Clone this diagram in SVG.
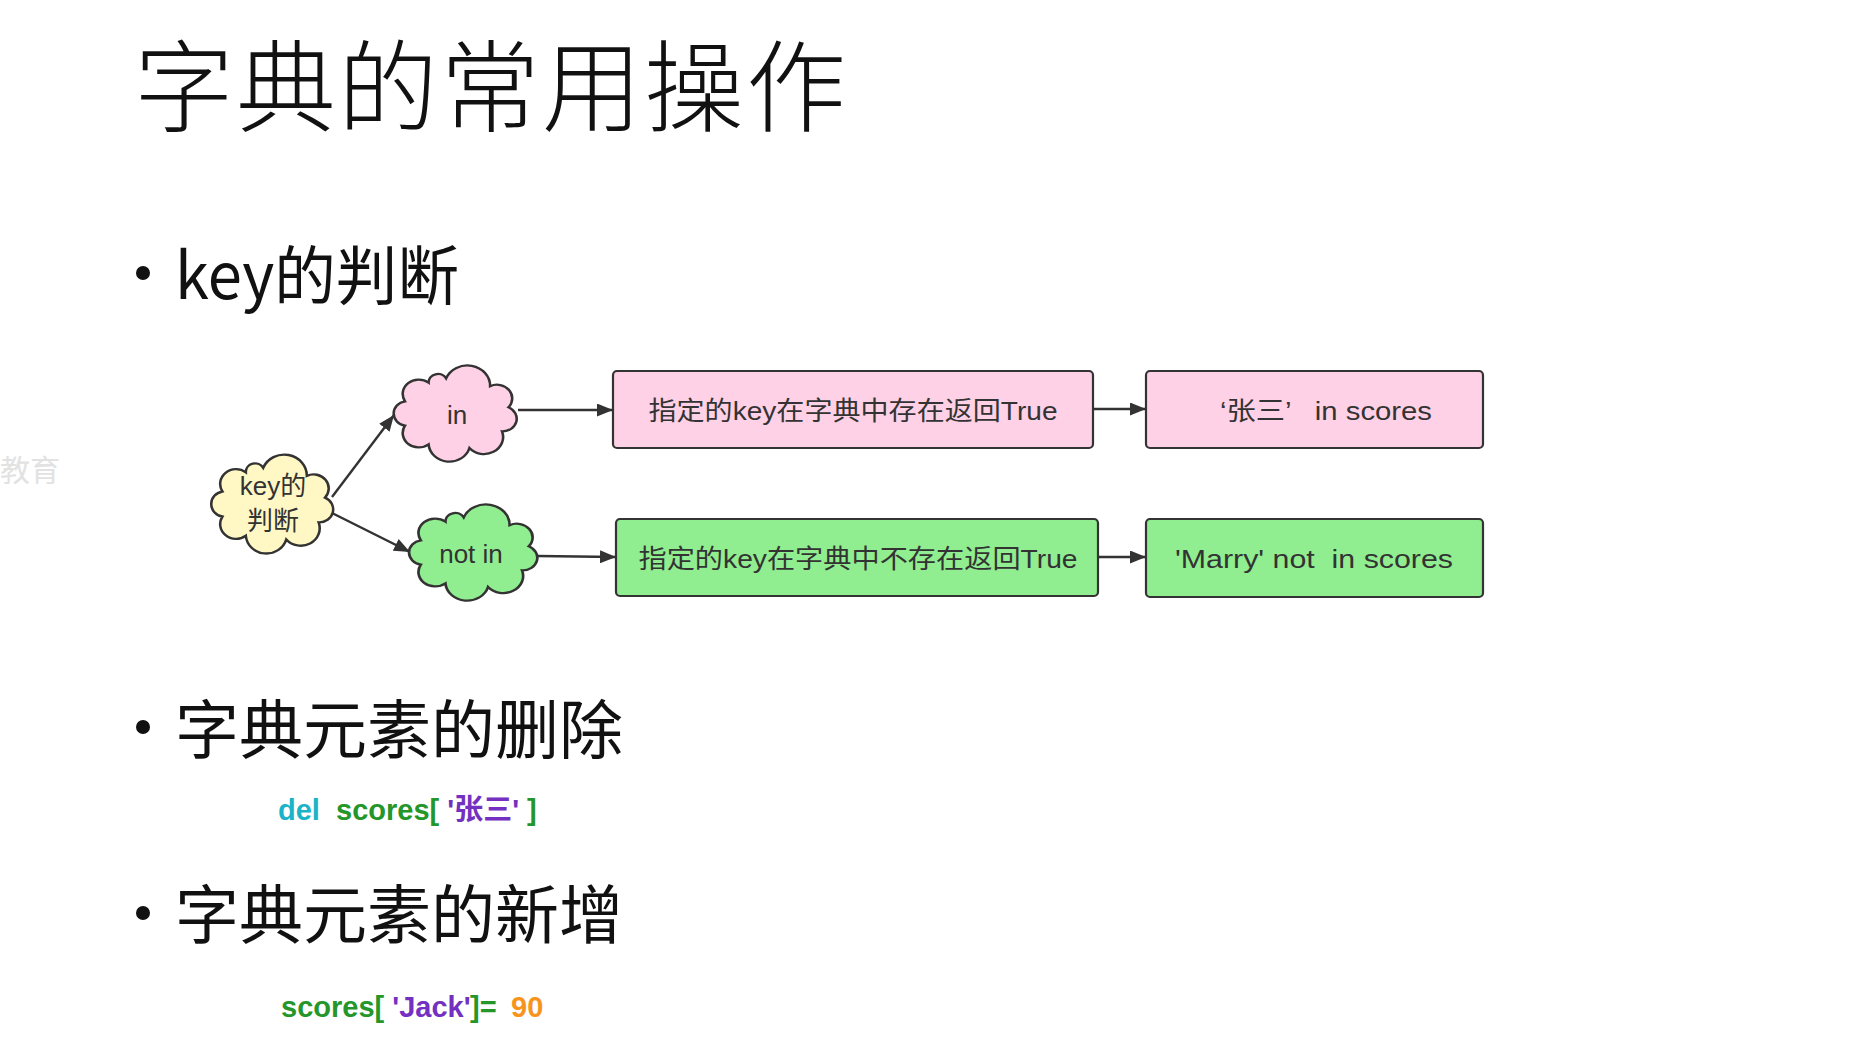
<svg xmlns="http://www.w3.org/2000/svg" width="1855" height="1048" viewBox="0 0 1855 1048">
<defs>
<style>
.title{font-family:"Noto Sans CJK SC","Noto Sans",sans-serif;font-size:100px;font-weight:300;fill:#111;letter-spacing:2px}
.h{font-family:"Noto Sans CJK SC","Noto Sans",sans-serif;font-size:64px;fill:#111}
.lbl{font-family:"Liberation Sans","Noto Sans CJK SC",sans-serif;font-size:26px;fill:#333}
.code{font-family:"Liberation Sans","Noto Sans CJK SC",sans-serif;font-size:29px;font-weight:700}
.wm{font-family:"Noto Sans CJK SC",sans-serif;font-size:30px;fill:#e2e2e2}
.box{stroke:#333;stroke-width:2.2}
.cl{stroke:#333;stroke-width:2.2;vector-effect:non-scaling-stroke}
.edge{stroke:#333;stroke-width:2.4;fill:none;marker-end:url(#arr)}
.pink{fill:#ffd1e6}
.green{fill:#90ee90}
.yellow{fill:#fff8c4}
</style>
<marker id="arr" markerWidth="16" markerHeight="13" refX="16" refY="6.5" orient="auto" markerUnits="userSpaceOnUse"><path d="M0,0 L16,6.5 L0,13 Z" fill="#333"/></marker>
<path id="cloud" d="M -8 -33.5 A 19.5 19.5 0 0 1 29.6 -26 A 13 13 0 0 1 45.3 -5.9 A 12 12 0 0 1 39.8 17 A 16.3 16.3 0 0 1 11.9 32.8 A 17.8 17.8 0 0 1 -23 29.4 A 13.7 13.7 0 0 1 -43.2 11.6 A 11.8 11.8 0 0 1 -43.2 -11.6 A 13.7 13.7 0 0 1 -23 -29.4 A 8 8 0 0 1 -8 -33.5 Z"/>
</defs>
<rect width="1855" height="1048" fill="#fff"/>
<text class="wm" x="0" y="481">教育</text>
<text class="title" x="134" y="124">字典的常用操作</text>
<g id="heading1"><circle cx="143" cy="273" r="7" fill="#111"/><text class="h" x="175" y="299" textLength="284" lengthAdjust="spacingAndGlyphs">key的判断</text></g>
<g id="heading2"><circle cx="143" cy="727" r="7" fill="#111"/><text class="h" x="175" y="753">字典元素的删除</text></g>
<g id="heading3"><circle cx="143" cy="913" r="7" fill="#111"/><text class="h" x="175" y="938">字典元素的新增</text></g>
<g id="code1"><text class="code" x="278" y="820" xml:space="preserve"><tspan fill="#1ab3c8">del</tspan><tspan fill="#24962a">  scores[ </tspan><tspan fill="#7430c0">'张三'</tspan><tspan fill="#24962a"> ]</tspan></text></g>
<g id="code2"><text class="code" x="281" y="1017" xml:space="preserve"><tspan fill="#24962a">scores[ </tspan><tspan fill="#7430c0">'Jack'</tspan><tspan fill="#24962a" x="470">]=</tspan><tspan fill="#f7941d" x="511">90</tspan></text></g>
<g id="connectors">
<line class="edge" x1="332" y1="497" x2="394" y2="415"/>
<line class="edge" x1="332" y1="513" x2="410" y2="552"/>
<line class="edge" x1="518" y1="410" x2="613" y2="410"/>
<line class="edge" x1="538" y1="556" x2="616" y2="557"/>
<line class="edge" x1="1093" y1="409" x2="1146" y2="409"/>
<line class="edge" x1="1098" y1="557" x2="1146" y2="557"/>
</g>
<g id="node-key"><use href="#cloud" class="cl yellow" transform="translate(272.5 504) scale(1.16 1.08)"/><text class="lbl" text-anchor="middle" x="273" y="495">key的</text><text class="lbl" text-anchor="middle" x="273" y="530">判断</text></g>
<g id="node-in"><use href="#cloud" class="cl pink" transform="translate(455.5 413.5) scale(1.17 1.05)"/><text class="lbl" text-anchor="middle" x="457" y="424">in</text></g>
<g id="node-notin"><use href="#cloud" class="cl green" transform="translate(473.5 552.5) scale(1.22 1.05)"/><text class="lbl" text-anchor="middle" x="471" y="563">not in</text></g>
<g id="node-r1"><rect class="box pink" x="613" y="371" width="480" height="77" rx="4"/><text class="lbl" text-anchor="middle" x="853" y="420" textLength="409" lengthAdjust="spacingAndGlyphs">指定的key在字典中存在返回True</text></g>
<g id="node-r2"><rect class="box pink" x="1146" y="371" width="337" height="77" rx="4"/><text class="lbl" x="1220" y="420" xml:space="preserve" textLength="212" lengthAdjust="spacingAndGlyphs">‘张三’   in scores</text></g>
<g id="node-r3"><rect class="box green" x="616" y="519" width="482" height="77" rx="4"/><text class="lbl" text-anchor="middle" x="858" y="568" textLength="439" lengthAdjust="spacingAndGlyphs">指定的key在字典中不存在返回True</text></g>
<g id="node-r4"><rect class="box green" x="1146" y="519" width="337" height="78" rx="4"/><text class="lbl" x="1175" y="568" xml:space="preserve" textLength="278" lengthAdjust="spacingAndGlyphs">'Marry' not  in scores</text></g>
</svg>
